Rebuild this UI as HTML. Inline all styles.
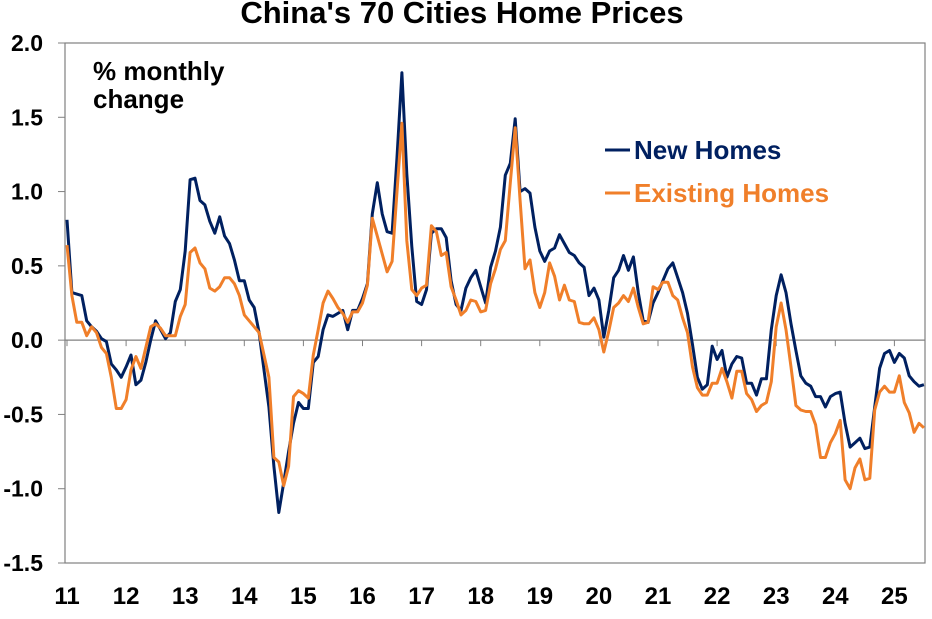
<!DOCTYPE html>
<html><head><meta charset="utf-8"><style>
body{margin:0;background:#fff;}
svg text{font-family:"Liberation Sans",Arial,sans-serif;font-weight:bold;}
</style></head><body>
<svg width="932" height="614" viewBox="0 0 932 614">
<text x="462" y="23" text-anchor="middle" font-size="31" fill="#000">China's 70 Cities Home Prices</text>
<rect x="65" y="43" width="860" height="520" fill="none" stroke="#808080" stroke-width="1.2"/>
<g id="yaxis"></g>
<g id="xaxis"></g>
<g id="series"></g>
<text x="93" y="80" font-size="26" fill="#000">% monthly</text>
<text x="93" y="108" font-size="26" fill="#000">change</text>
<line x1="605" y1="150" x2="630" y2="150" stroke="#002060" stroke-width="3"/>
<text x="634" y="159" font-size="26" fill="#002060">New Homes</text>
<line x1="605" y1="193" x2="630" y2="193" stroke="#F07F2A" stroke-width="3"/>
<text x="634" y="202" font-size="26" fill="#F07F2A">Existing Homes</text>
</svg>
<script>
const yTicks=[2.0,1.5,1.0,0.5,0.0,-0.5,-1.0,-1.5];
const yTickLabels=["2.0","1.5","1.0","0.5","0.0","-0.5","-1.0","-1.5"];
const xYears=["11","12","13","14","15","16","17","18","19","20","21","22","23","24","25"];
const newHomes=[0.81,0.32,0.31,0.30,0.13,0.09,0.06,0.01,-0.01,-0.16,-0.2,-0.25,-0.18,-0.1,-0.3,-0.27,-0.15,0.0,0.13,0.07,0.01,0.05,0.26,0.34,0.6,1.08,1.09,0.94,0.91,0.8,0.72,0.83,0.7,0.65,0.54,0.4,0.4,0.27,0.22,0.05,-0.2,-0.45,-0.85,-1.16,-0.96,-0.75,-0.56,-0.42,-0.46,-0.46,-0.15,-0.11,0.07,0.17,0.16,0.18,0.2,0.07,0.2,0.2,0.28,0.38,0.85,1.06,0.85,0.73,0.72,1.23,1.8,1.12,0.63,0.26,0.24,0.34,0.72,0.75,0.75,0.69,0.4,0.24,0.2,0.35,0.42,0.47,0.36,0.25,0.49,0.6,0.76,1.11,1.19,1.49,1.0,1.02,0.99,0.76,0.6,0.53,0.6,0.62,0.71,0.65,0.59,0.57,0.52,0.49,0.3,0.35,0.27,0.02,0.2,0.42,0.47,0.57,0.47,0.56,0.32,0.13,0.12,0.25,0.32,0.4,0.48,0.52,0.42,0.32,0.18,-0.03,-0.25,-0.33,-0.3,-0.04,-0.13,-0.07,-0.25,-0.16,-0.11,-0.12,-0.29,-0.29,-0.37,-0.26,-0.26,0.07,0.3,0.44,0.32,0.11,-0.07,-0.24,-0.29,-0.31,-0.38,-0.38,-0.45,-0.38,-0.36,-0.35,-0.56,-0.72,-0.69,-0.66,-0.73,-0.72,-0.45,-0.19,-0.09,-0.07,-0.15,-0.09,-0.12,-0.24,-0.28,-0.31,-0.3];
const existingHomes=[0.64,0.3,0.12,0.12,0.03,0.09,0.05,-0.05,-0.09,-0.25,-0.46,-0.46,-0.4,-0.2,-0.11,-0.19,-0.05,0.09,0.11,0.08,0.03,0.03,0.03,0.16,0.24,0.59,0.62,0.52,0.48,0.35,0.33,0.36,0.42,0.42,0.38,0.3,0.17,0.13,0.09,0.05,-0.1,-0.25,-0.79,-0.82,-0.98,-0.85,-0.38,-0.34,-0.36,-0.39,-0.1,0.07,0.25,0.33,0.28,0.22,0.18,0.12,0.19,0.19,0.25,0.37,0.82,0.7,0.58,0.46,0.53,1.0,1.46,0.67,0.34,0.3,0.35,0.37,0.77,0.73,0.57,0.59,0.36,0.27,0.17,0.2,0.27,0.26,0.19,0.2,0.38,0.48,0.61,0.67,1.06,1.43,0.94,0.48,0.54,0.32,0.22,0.32,0.52,0.43,0.27,0.37,0.27,0.26,0.12,0.11,0.11,0.15,0.07,-0.08,0.06,0.22,0.25,0.3,0.26,0.35,0.22,0.11,0.12,0.36,0.34,0.39,0.39,0.3,0.27,0.15,0.05,-0.18,-0.32,-0.37,-0.37,-0.29,-0.29,-0.19,-0.28,-0.39,-0.21,-0.21,-0.36,-0.4,-0.48,-0.44,-0.42,-0.28,0.09,0.25,0.07,-0.18,-0.44,-0.47,-0.48,-0.48,-0.57,-0.79,-0.79,-0.69,-0.63,-0.54,-0.94,-1.0,-0.86,-0.8,-0.94,-0.93,-0.47,-0.35,-0.31,-0.35,-0.35,-0.24,-0.42,-0.49,-0.62,-0.56,-0.59];
const NS="http://www.w3.org/2000/svg";
const L=65,R=925,T=43,B=563,X0=67,monthPx=4.925,yMin=-1.5,yMax=2.0;
function yS(v){return B-(v-yMin)/(yMax-yMin)*(B-T);}
function xMonth(i){return X0+i*monthPx;}
const ya=document.getElementById('yaxis');
yTicks.forEach((v,i)=>{
 const t=document.createElementNS(NS,'line');
 t.setAttribute('x1',L-7);t.setAttribute('x2',L);t.setAttribute('y1',yS(v));t.setAttribute('y2',yS(v));
 t.setAttribute('stroke','#808080');
 
 
 ya.appendChild(t);
 const tx=document.createElementNS(NS,'text');
 tx.setAttribute('x',43);tx.setAttribute('y',yS(v)+8);tx.setAttribute('text-anchor','end');tx.setAttribute('font-size','23');
 tx.textContent=yTickLabels[i];
 
 
 ya.appendChild(tx);
});
const xa=document.getElementById('xaxis');
const zl=document.createElementNS(NS,'line');
zl.setAttribute('x1',L);zl.setAttribute('x2',R);zl.setAttribute('y1',yS(0));zl.setAttribute('y2',yS(0));zl.setAttribute('stroke','#808080');zl.setAttribute('stroke-width','1.2');


xa.appendChild(zl);
xYears.forEach((y,i)=>{
 const x=xMonth(i*12);
 const t=document.createElementNS(NS,'line');
 t.setAttribute('x1',x);t.setAttribute('x2',x);t.setAttribute('y1',yS(0));t.setAttribute('y2',yS(0)+6);t.setAttribute('stroke','#808080');
 
 
 xa.appendChild(t);
 const tx=document.createElementNS(NS,'text');
 tx.setAttribute('x',x);tx.setAttribute('y',604);tx.setAttribute('text-anchor','middle');tx.setAttribute('font-size','24');
 tx.textContent=y;
 
 
 xa.appendChild(tx);
});
function drawSeries(vals,color,name){
 const pts=vals.map((v,i)=>xMonth(i).toFixed(1)+','+yS(v).toFixed(1)).join(' ');
 const p=document.createElementNS(NS,'polyline');
 p.setAttribute('points',pts);p.setAttribute('fill','none');p.setAttribute('stroke',color);p.setAttribute('stroke-width','3');p.setAttribute('stroke-linejoin','round');
 
 
 document.getElementById('series').appendChild(p);
}
drawSeries(newHomes,'#002060','new-homes-line');
drawSeries(existingHomes,'#F07F2A','existing-homes-line');
</script>
</body></html>
